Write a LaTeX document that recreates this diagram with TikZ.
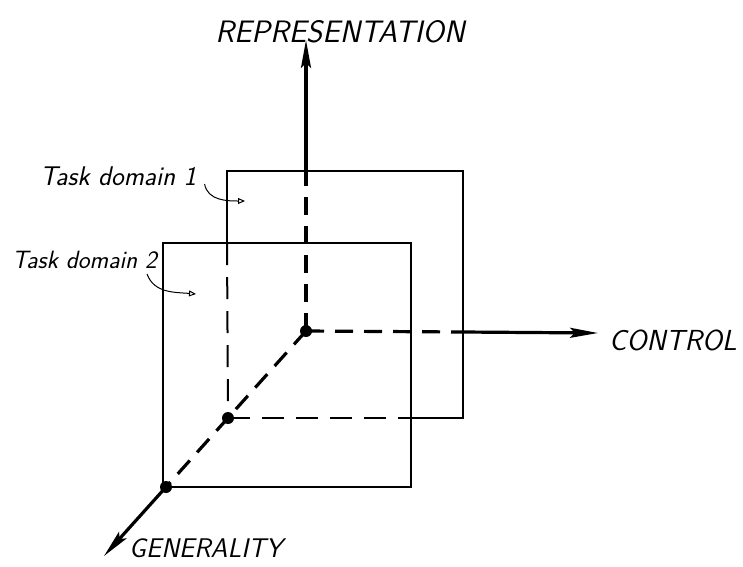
\documentclass[tikz,border=0pt]{standalone}
\usetikzlibrary{arrows.meta}
\begin{document}
\begin{tikzpicture}[x=1pt,y=-1pt,
  axis/.style={line width=3.2pt},
  axisdash/.style={line width=3.2pt,dash pattern=on 18pt off 11pt},
  edge/.style={line width=2pt},
  edgedash/.style={line width=2pt,dash pattern=on 22pt off 12pt},
  dot/.style={circle,fill=black,inner sep=0pt,minimum size=12pt},
  bigtip/.style={-{Stealth[length=28pt,width=10pt,inset=5pt]}},
  hand/.style={inner sep=0pt},
  pointer/.style={line width=1pt,-{Triangle[open,length=7pt,width=6pt]}}]
\useasboundingbox (0,0) rectangle (743,566);
% key points
\node[dot] (o) at (306,331) {};
\node[dot] (ca) at (228,418) {};
\node[dot] (cb) at (166,487) {};
\coordinate (rtop) at (306,40);
\coordinate (rsw) at (306,186);
\coordinate (cend) at (598,333);
\coordinate (csw) at (463,332);
\coordinate (gend) at (104,556);
% domain 1 (behind)
\coordinate (a1) at (227,171);
\coordinate (a2) at (463,171);
\coordinate (a3) at (463,418);
\coordinate (a4) at (411,418);
\coordinate (a5) at (227,243);
\draw[edge] (a5) -- (a1) -- (a2) -- (a3) -- (a4);
\draw[edgedash] (a5) -- (ca.center);
\draw[edgedash] (ca.center) -- (a4);
% domain 2 (front)
\draw[edge] (163,243) rectangle (411,487);
% axes
\draw[axis,bigtip] (rsw) -- (rtop);
\draw[axisdash] (o.center) -- (rsw);
\draw[axisdash] (o.center) -- (csw);
\draw[axis,bigtip] (csw) -- (cend);
\draw[axisdash] (o.center) -- (cb.center);
\draw[axis,bigtip] (cb.center) -- (gend);
% labels
\node[hand,font=\fontsize{31}{31}\sffamily\slshape] (rep) at (340,32) {REPRESENTATION};
\node[hand,font=\fontsize{29}{29}\sffamily\slshape,anchor=west] (ctl) at (609,340) {CONTROL};
\node[hand,font=\fontsize{27}{27}\sffamily\slshape,anchor=west] (gen) at (129,548) {GENERALITY};
\node[hand,font=\fontsize{27}{27}\sffamily\slshape,anchor=west] (t1) at (40,176) {Task domain 1};
\node[hand,font=\fontsize{25}{25}\sffamily\slshape,anchor=west] (t2) at (12,260) {Task domain 2};
\coordinate (p1) at (245,201);
\coordinate (p2) at (196,294);
\draw[pointer] (t1.east) ++(8,8) to[out=-80,in=180] (p1);
\draw[pointer] (t2.east) ++(-10,14) to[out=-70,in=175] (p2);
\end{tikzpicture}
\end{document}
